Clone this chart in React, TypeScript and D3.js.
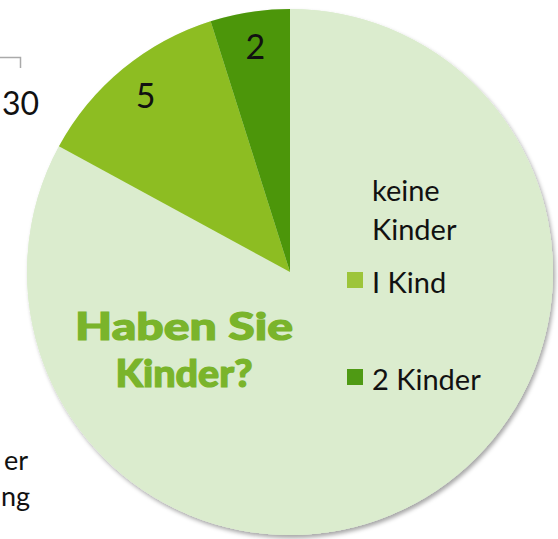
import React, { useEffect, useRef } from 'react';
import * as d3 from 'd3';

const categories = ['keine Kinder', '1 Kind', '2 Kinder'];
const values = [34, 5, 2];
const sliceLabels = ['', '5', '2'];
const colors = ['#dbecce', '#8dbd22', '#4c960a'];
const legendColors = ['#dbecce', '#9dc53a', '#4f9a14'];
const titleLines = ['Haben Sie', 'Kinder?'];
const titleWidths = [218, 137];

const W = 558;
const H = 539;

const App = () => {
  const ref = useRef<SVGSVGElement>(null);

  useEffect(() => {
    document.body.style.margin = '0';
    const svg = d3.select(ref.current);
    svg.selectAll('*').remove();

    const cx = 290;
    const cy = 272;
    const r = 263;

    const defs = svg.append('defs');
    const f = defs.append('filter').attr('id', 'shadow')
      .attr('x', '-10%').attr('y', '-10%').attr('width', '120%').attr('height', '120%');
    f.append('feDropShadow')
      .attr('dx', 2).attr('dy', 3).attr('stdDeviation', 2)
      .attr('flood-color', '#000').attr('flood-opacity', 0.35);

    // bits of the chart underneath
    svg.append('path')
      .attr('d', 'M0,57.5 H20.5 V68')
      .attr('fill', 'none').attr('stroke', '#aaa').attr('stroke-width', 1.5);
    const bg = svg.append('g')
      .style('font-family', 'Lato, "Open Sans", sans-serif')
      .attr('fill', '#111');
    bg.append('text').attr('x', 2).attr('y', 115).style('font-size', '32px').text('30');
    bg.append('text').attr('x', 28).attr('y', 470).attr('text-anchor', 'end')
      .style('font-size', '27px').text('er');
    bg.append('text').attr('x', 1).attr('y', 506).style('font-size', '27px').text('ng');

    const pie = d3.pie<number>().sort(null).value((d) => d);
    const arcs = pie(values);
    const arc = d3.arc<d3.PieArcDatum<number>>().innerRadius(0).outerRadius(r);
    const labelArc = d3.arc<d3.PieArcDatum<number>>().innerRadius(227 * 2 - r).outerRadius(r);

    const g = svg.append('g').attr('transform', `translate(${cx},${cy})`);
    g.append('circle').attr('r', r).attr('fill', colors[0]).attr('filter', 'url(#shadow)');
    g.selectAll('path.slice')
      .data(arcs)
      .join('path')
      .attr('class', 'slice')
      .attr('d', arc)
      .attr('fill', (d, i) => colors[i]);

    g.selectAll('text.val')
      .data(arcs)
      .join('text')
      .attr('class', 'val')
      .attr('transform', (d) => `translate(${labelArc.centroid(d)})`)
      .attr('text-anchor', 'middle')
      .attr('dy', '0.33em')
      .style('font-family', 'Lato, sans-serif')
      .style('font-size', '34px')
      .attr('fill', '#111')
      .text((d, i) => sliceLabels[i]);

    // title
    svg.append('g')
      .selectAll('text')
      .data(titleLines)
      .join('text')
      .attr('x', 184)
      .attr('y', (d, i) => 340 + i * 47)
      .attr('text-anchor', 'middle')
      .attr('textLength', (d, i) => titleWidths[i])
      .attr('lengthAdjust', 'spacingAndGlyphs')
      .style('font-family', 'Lato, sans-serif')
      .style('font-weight', 900)
      .style('font-size', '38px')
      .attr('fill', '#7ab42b')
      .attr('stroke', '#7ab42b')
      .attr('stroke-width', 1.2)
      .text((d) => d);

    // legend
    const leg = svg.append('g')
      .style('font-family', 'Lato, sans-serif')
      .style('font-size', '29px')
      .attr('fill', '#111');
    leg.append('text').attr('x', 372).attr('y', 201).text('keine');
    leg.append('text').attr('x', 372).attr('y', 240).text('Kinder');
    const rows = [
      { i: 1, y: 293 },
      { i: 2, y: 390 },
    ];
    rows.forEach(({ i, y }) => {
      leg.append('rect').attr('x', 347).attr('y', y - 21).attr('width', 16).attr('height', 16)
        .attr('fill', legendColors[i]);
      leg.append('text').attr('x', 372).attr('y', y)
        .text(categories[i] === '1 Kind' ? 'I Kind' : categories[i]);
    });
  }, []);

  return <svg ref={ref} width={W} height={H} style={{ display: 'block' }}></svg>;
};

export default App;
